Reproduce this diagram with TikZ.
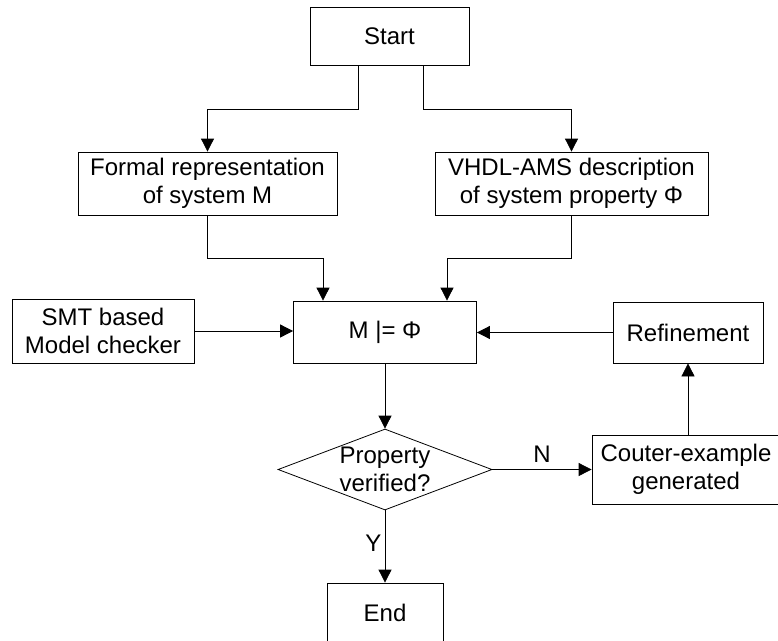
\documentclass[tikz,border=0pt]{standalone}
\usepackage{fontspec}
\setmainfont{Liberation Sans}
\usetikzlibrary{arrows.meta,shapes.geometric}

\tikzset{
  box/.style={draw, line width=0.8pt, align=center, inner sep=0pt},
  >={Triangle[length=13pt,width=13pt]}
}

\begin{document}
\begin{tikzpicture}[x=1pt,y=-1pt,line width=0.8pt,font=\fontsize{24}{28}\selectfont]
	\useasboundingbox (0,0) rectangle (778,640);
	% boxes
	\node[box, minimum width=159pt, minimum height=58pt] (start) at (389.5,36) {Start};
	\node[box, minimum width=259pt, minimum height=63pt] (formal) at (207.5,183.5) {Formal representation\\of system M};
	\node[box, minimum width=273pt, minimum height=63pt] (vhdl) at (571.5,183.5) {VHDL-AMS description\\of system property Φ};
	\node[box, minimum width=182pt, minimum height=64pt] (smt) at (103,331) {SMT based\\Model checker};
	\node[box, minimum width=183pt, minimum height=62pt] (mphi) at (385,332) {M |= Φ};
	\node[box, minimum width=150pt, minimum height=61pt] (refine) at (688,332.5) {Refinement};
	\node[diamond, draw, minimum width=214pt, minimum height=81pt, inner sep=0pt,
		label={[align=center]center:Property\\verified?}] (check) at (385,469.5) {};
	\node[box, minimum width=188pt, minimum height=69pt] (couter) at (686,469.5) {Couter-example\\generated};
	\node[box, minimum width=116pt, minimum height=59pt] (end) at (385,612.5) {End};
	% connectors
	\draw[->] ([xshift=-31pt]start.south) -- ++(0,44) -| (formal.north);
	\draw[->] ([xshift=33.5pt]start.south) -- ++(0,44) -| (vhdl.north);
	\draw[->] (formal.south) -- ++(0,43) -| ([xshift=-62pt]mphi.north);
	\draw[->] (vhdl.south) -- ++(0,43) -| ([xshift=62pt]mphi.north);
	\draw[->] (smt.east) -- (smt.east -| mphi.west);
	\draw[->] (refine.west) -- (refine.west -| mphi.east);
	\draw[->] (mphi) -- (check);
	\draw[->] (check) -- node[pos=0.45, left] {Y} (end);
	\draw[->] (check.east) -- node[above=3pt] {N} (couter.west);
	\draw[->] (refine.south |- couter.north) -- (refine.south);
\end{tikzpicture}
\end{document}
